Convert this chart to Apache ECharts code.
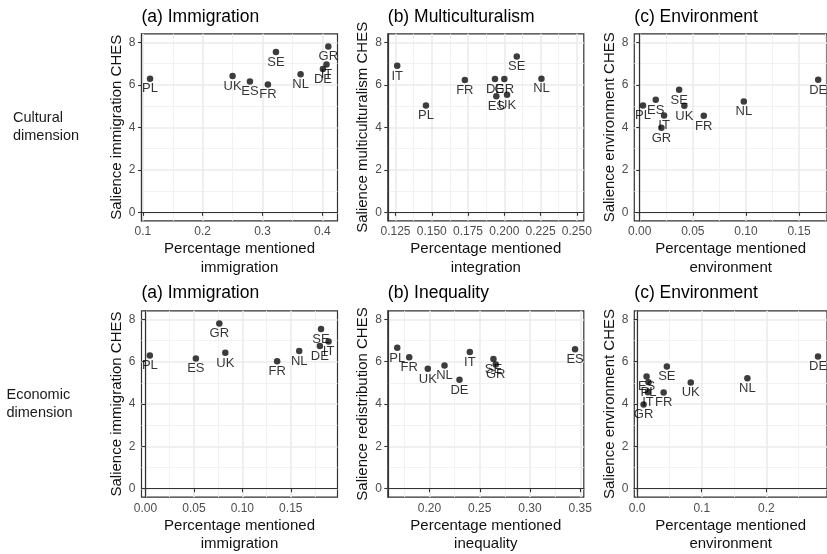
<!DOCTYPE html>
<html>
<head>
<meta charset="utf-8">
<script src="https://cdn.jsdelivr.net/npm/echarts@6/dist/echarts.min.js"></script>
<style>
  html, body { margin: 0; padding: 0; background: #ffffff; }
  #chart { width: 827px; height: 554px; }
</style>
</head>
<body>
<div id="chart"></div>
<script>
// Countries, in the same order for every array below
const countries = ['PL', 'UK', 'ES', 'FR', 'SE', 'NL', 'DE', 'IT', 'GR'];

// CHES salience scores
const salienceImmigration      = [6.29, 6.42, 6.15, 6.02, 7.54, 6.50, 6.74, 6.95, 7.80];
const salienceMulticulturalism = [5.03, 5.53, 5.46, 6.23, 7.33, 6.29, 6.27, 6.90, 6.27];
const salienceRedistribution   = [6.65, 5.66, 6.59, 6.21, 6.12, 5.82, 5.14, 6.46, 5.86];
const salienceEnvironment      = [5.03, 5.01, 5.30, 4.54, 5.77, 5.22, 6.24, 4.56, 3.98];

// Share of respondents mentioning each issue, cultural dimension
const culturalImmigration  = [0.112, 0.250, 0.279, 0.309, 0.3225, 0.3637, 0.401, 0.407, 0.410];
const culturalIntegration  = [0.146, 0.2019, 0.1945, 0.1728, 0.2086, 0.2256, 0.1936, 0.1262, 0.200];
const culturalEnvironment  = [0.0031, 0.042, 0.0151, 0.0603, 0.0371, 0.098, 0.168, 0.0229, 0.0204];

// Share of respondents mentioning each issue, economic dimension
const economicImmigration  = [0.0045, 0.0824, 0.052, 0.1359, 0.1812, 0.1587, 0.1800, 0.189, 0.0762];
const economicInequality   = [0.1679, 0.1983, 0.3448, 0.1798, 0.2636, 0.2149, 0.2298, 0.2401, 0.2659];
const economicEnvironment  = [0.0176, 0.083, 0.0146, 0.041, 0.046, 0.1707, 0.2801, 0.0167, 0.010];

// Axis breaks and tick labels
const yTicks = [0, 2, 4, 6, 8];
const yMinor = [1, 3, 5, 7];
const yRange = [-0.4, 8.4];

const panelTitles = ['(a) Immigration', '(b) Multiculturalism', '(c) Environment',
                     '(a) Immigration', '(b) Inequality', '(c) Environment'];
const panelX = [culturalImmigration, culturalIntegration, culturalEnvironment,
                economicImmigration, economicInequality, economicEnvironment];
const panelY = [salienceImmigration, salienceMulticulturalism, salienceEnvironment,
                salienceImmigration, salienceRedistribution, salienceEnvironment];
const xTitles = ['Percentage mentioned\nimmigration', 'Percentage mentioned\nintegration',
                 'Percentage mentioned\nenvironment', 'Percentage mentioned\nimmigration',
                 'Percentage mentioned\ninequality', 'Percentage mentioned\nenvironment'];
const yTitles = ['Salience immigration CHES', 'Salience multiculturalism CHES',
                 'Salience environment CHES', 'Salience immigration CHES',
                 'Salience redistribution CHES', 'Salience environment CHES'];
const xTicks = [
  [0.1, 0.2, 0.3, 0.4],
  [0.125, 0.150, 0.175, 0.200, 0.225, 0.250],
  [0.00, 0.05, 0.10, 0.15],
  [0.00, 0.05, 0.10, 0.15],
  [0.20, 0.25, 0.30, 0.35],
  [0.0, 0.1, 0.2]
];
const xMinor = [
  [0.15, 0.25, 0.35],
  [0.1375, 0.1625, 0.1875, 0.2125, 0.2375],
  [0.025, 0.075, 0.125, 0.175],
  [0.025, 0.075, 0.125, 0.175],
  [0.175, 0.225, 0.275, 0.325],
  [0.05, 0.15, 0.25]
];
const xTickDecimals = [1, 3, 2, 2, 2, 1];
const xRanges = [
  [0.0977, 0.4254],
  [0.1197, 0.2548],
  [-0.0051, 0.1763],
  [-0.0041, 0.1982],
  [0.1585, 0.3535],
  [-0.0044, 0.2940]
];

// Page layout
const FONT = '"Liberation Sans", Arial, Helvetica, sans-serif';
const colLeft = [141.5, 387.8, 634.3];
const rowTop = [33.8, 310.8];
const panelW = 196;
const panelH = 187;

const chart = echarts.init(document.getElementById('chart'), null, { renderer: 'canvas' });

const grids = [], xAxes = [], yAxes = [], series = [], graphics = [];

for (let i = 0; i < 6; i++) {
  const row = Math.floor(i / 3), col = i % 3;
  grids.push({
    left: colLeft[col], top: rowTop[row], width: panelW, height: panelH,
    show: true, borderColor: '#333333', borderWidth: 1.2, backgroundColor: 'transparent'
  });

  const dec = xTickDecimals[i];
  // major breaks with labels
  xAxes.push({
    gridIndex: i, type: 'value', position: 'bottom',
    min: xRanges[i][0], max: xRanges[i][1],
    axisLine: { show: true, lineStyle: { color: '#333333', width: 1.2 } },
    axisTick: { show: true, customValues: xTicks[i], length: 3.5, lineStyle: { color: '#333333', width: 1.1 } },
    axisLabel: { customValues: xTicks[i], formatter: v => v.toFixed(dec), color: '#4d4d4d',
                 fontSize: 12, fontFamily: FONT, margin: 5, showMinLabel: true, showMaxLabel: true },
    splitLine: { show: true, lineStyle: { color: '#ebebeb', width: 1.6 } },
    name: xTitles[i], nameLocation: 'middle', nameGap: 19,
    nameTextStyle: { color: '#111111', fontSize: 15, fontFamily: FONT, lineHeight: 18.4 }
  });
  // minor grid lines
  xAxes.push({
    gridIndex: i, type: 'value', position: 'bottom',
    min: xRanges[i][0], max: xRanges[i][1],
    axisLine: { show: false },
    axisTick: { show: false, customValues: xMinor[i] },
    axisLabel: { show: false, customValues: xMinor[i] },
    splitLine: { show: true, lineStyle: { color: '#f0f0f0', width: 0.9 } }
  });

  yAxes.push({
    gridIndex: i, type: 'value', position: 'left',
    min: yRange[0], max: yRange[1],
    axisLine: { show: true, lineStyle: { color: '#333333', width: 1.2 } },
    axisTick: { show: true, customValues: yTicks, length: 3.5, lineStyle: { color: '#333333', width: 1.1 } },
    axisLabel: { customValues: yTicks, color: '#4d4d4d', fontSize: 12, fontFamily: FONT, margin: 6 },
    splitLine: { show: true, lineStyle: { color: '#ebebeb', width: 1.6 } },
    name: yTitles[i], nameLocation: 'middle', nameGap: 17,
    nameTextStyle: { color: '#111111', fontSize: 15, fontFamily: FONT }
  });
  yAxes.push({
    gridIndex: i, type: 'value', position: 'left',
    min: yRange[0], max: yRange[1],
    axisLine: { show: false },
    axisTick: { show: false, customValues: yMinor },
    axisLabel: { show: false, customValues: yMinor },
    splitLine: { show: true, lineStyle: { color: '#f0f0f0', width: 0.9 } }
  });

  series.push({
    type: 'scatter',
    xAxisIndex: 2 * i, yAxisIndex: 2 * i,
    symbol: 'circle', symbolSize: 6.5,
    itemStyle: { color: '#0d0d0d' },
    clip: false,
    emphasis: { disabled: true },
    label: {
      show: true, position: 'bottom', distance: 0.5,
      formatter: p => p.data[2],
      color: '#000000', fontSize: 13, fontFamily: FONT
    },
    labelLayout: { hideOverlap: false },
    data: countries.map((c, k) => [panelX[i][k], panelY[i][k], c])
  });

  graphics.push({
    type: 'text', x: colLeft[col], y: row === 0 ? 17 : 293,
    style: { text: panelTitles[i], font: '17.5px ' + FONT, fill: '#000000',
             textAlign: 'left', textVerticalAlign: 'middle' }
  });
}

// Row labels
graphics.push({
  type: 'text', x: 13, y: 127,
  style: { text: 'Cultural\ndimension', font: '14.5px ' + FONT, fill: '#1a1a1a',
           lineHeight: 17.5, textAlign: 'left', textVerticalAlign: 'middle' }
});
graphics.push({
  type: 'text', x: 6.5, y: 404,
  style: { text: 'Economic\ndimension', font: '14.5px ' + FONT, fill: '#1a1a1a',
           lineHeight: 18.5, textAlign: 'left', textVerticalAlign: 'middle' }
});

chart.setOption({
  animation: false,
  backgroundColor: '#ffffff',
  textStyle: { fontFamily: FONT },
  grid: grids,
  xAxis: xAxes,
  yAxis: yAxes,
  series: series,
  graphic: graphics
});
</script>
</body>
</html>
